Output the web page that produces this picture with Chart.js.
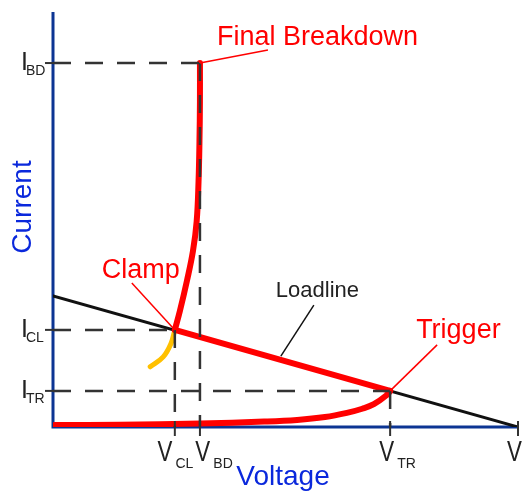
<!DOCTYPE html>
<html>
<head>
<meta charset="utf-8">
<script src="https://cdn.jsdelivr.net/npm/chart.js@4/dist/chart.umd.min.js"></script>
<style>
  html, body { margin: 0; padding: 0; background: #fff; }
  #wrap { width: 528px; height: 491px; }
</style>
</head>
<body>
<div id="wrap"><canvas id="chart" width="528" height="491"></canvas></div>
<script>
// operating points: breakdown, clamp, trigger
const pointNames = ['BD', 'CL', 'TR'];
const pointV     = [31.6, 26.2, 72.5];
const pointI     = [87.7, 23.4, 8.7];

// voltage axis ticks (last one is the supply V)
const vTickNames  = ['CL', 'BD', 'TR', ''];
const vTickValues = [26.2, 31.6, 72.5, 100];

// off-state branch, up to the trigger point
const offV = [0.4, 14.4, 31.6, 45.4, 52.5, 58.5, 63.2, 66.5, 69.0, 71.8, 72.5];
const offI = [0.5, 0.55, 0.85, 1.3, 1.7, 2.4, 3.4, 4.4, 5.5, 7.7, 8.7];

// snapback along the loadline
const snapV = [72.5, 26.2];
const snapI = [8.7, 23.4];

// clamp branch up to final breakdown
const clampV = [26.2, 27.3, 28.8, 30.1, 30.9, 31.3, 31.5, 31.6, 31.6];
const clampI = [23.4, 28.0, 35.2, 42.4, 49.6, 59.2, 68.9, 78.5, 87.7];

// holding branch below the clamp point
const holdV = [26.2, 25.4, 23.7, 20.9];
const holdI = [23.4, 20.2, 16.9, 14.5];

// loadline
const loadV = [0, 100];
const loadI = [31.6, 0];

const FONT  = '"Liberation Sans", Arial, sans-serif';
const RED   = '#ff0000';
const NAVY  = '#0c3593';
const BLUE  = '#0a28dc';
const DASH  = '#333333';
const INK   = '#222222';

const pts = (xs, ys) => xs.map((v, i) => ({ x: v, y: ys[i] }));

function label(ctx, str, x, y, size, color, align = 'left', sx = 1) {
  ctx.save();
  ctx.font = `${size}px ${FONT}`;
  ctx.fillStyle = color;
  ctx.textAlign = align;
  ctx.textBaseline = 'alphabetic';
  ctx.translate(x, y);
  ctx.scale(sx, 1);
  ctx.fillText(str, 0, 0);
  ctx.restore();
}

function textWidth(ctx, str, size) {
  ctx.save();
  ctx.font = `${size}px ${FONT}`;
  const w = ctx.measureText(str).width;
  ctx.restore();
  return w;
}

function seg(ctx, x1, y1, x2, y2) {
  ctx.beginPath();
  ctx.moveTo(x1, y1);
  ctx.lineTo(x2, y2);
  ctx.stroke();
}

const sketch = {
  id: 'sketch',
  beforeDatasetsDraw(chart) {
    const { ctx, scales: { x, y } } = chart;
    ctx.save();
    ctx.strokeStyle = NAVY;
    ctx.lineWidth = 3;
    ctx.beginPath();
    ctx.moveTo(x.getPixelForValue(0), y.getPixelForValue(100));
    ctx.lineTo(x.getPixelForValue(0), y.getPixelForValue(0));
    ctx.lineTo(x.getPixelForValue(100), y.getPixelForValue(0));
    ctx.stroke();
    ctx.restore();
  },
  afterDatasetsDraw(chart) {
    const { ctx, scales: { x, y } } = chart;
    const x0 = x.getPixelForValue(0);
    const y0 = y.getPixelForValue(0);

    // dashed guides to each operating point
    ctx.save();
    ctx.strokeStyle = DASH;
    ctx.lineWidth = 2.5;
    ctx.setLineDash([18, 14]);
    pointV.forEach((v, i) => {
      const px = x.getPixelForValue(v);
      const py = y.getPixelForValue(pointI[i]);
      seg(ctx, x0, py, px, py);
      seg(ctx, px, py, px, y0);
    });
    ctx.setLineDash([]);

    // ticks
    ctx.lineWidth = 2;
    pointI.forEach(v => {
      const py = y.getPixelForValue(v);
      seg(ctx, x0 - 8, py, x0, py);
    });
    vTickValues.forEach(v => {
      const px = x.getPixelForValue(v);
      seg(ctx, px, y0 - 6, px, y0 + 9);
    });
    ctx.restore();

    // current tick labels
    pointI.forEach((v, i) => {
      const py = y.getPixelForValue(v);
      label(ctx, 'I', x0 - 32, py + 7, 25, INK);
      label(ctx, pointNames[i], x0 - 27, py + 12, 14, INK);
    });

    // voltage tick labels, nudged apart where they would collide
    const vW = 15, gap = 3;
    const groups = vTickValues.map((v, i) => {
      const left = x.getPixelForValue(v) - 11;
      const w = vW + (vTickNames[i] ? gap + textWidth(ctx, vTickNames[i], 14) : 0);
      return { left, w };
    });
    for (let i = 1; i < groups.length; i++) {
      const prev = groups[i - 1], cur = groups[i];
      const over = prev.left + prev.w + 2 - cur.left;
      if (over > 0) { prev.left -= over / 2; cur.left += over / 2; }
    }
    groups.forEach((g, i) => {
      label(ctx, 'V', g.left, y0 + 34, 29, INK, 'left', 0.77);
      if (vTickNames[i]) label(ctx, vTickNames[i], g.left + vW + gap, y0 + 41, 14, INK);
    });

    // axis titles
    label(ctx, 'Voltage', 283, y0 + 58, 28, BLUE, 'center');
    ctx.save();
    ctx.translate(31, 207);
    ctx.rotate(-Math.PI / 2);
    label(ctx, 'Current', 0, 0, 28, BLUE, 'center');
    ctx.restore();

    // callouts
    ctx.save();
    ctx.lineWidth = 1.5;
    const call = (ax, ay, ex, ey, tx, ty, str, size, color, lineColor) => {
      ctx.strokeStyle = lineColor;
      seg(ctx, ax, ay, ax + ex, ay + ey);
      label(ctx, str, ax + tx, ay + ty, size, color);
    };
    const bx = x.getPixelForValue(pointV[0]), by = y.getPixelForValue(pointI[0]);
    call(bx, by, 68, -13, 17, -18, 'Final Breakdown', 27, RED, RED);
    const cx = x.getPixelForValue(pointV[1]), cy = y.getPixelForValue(pointI[1]);
    call(cx, cy, -43, -47, -73, -52, 'Clamp', 27, RED, RED);
    const tx = x.getPixelForValue(pointV[2]), ty = y.getPixelForValue(pointI[2]);
    call(tx, ty, 47, -46, 26, -53, 'Trigger', 27, RED, RED);
    const lv = 49;
    const lx = x.getPixelForValue(lv);
    const ly = y.getPixelForValue(loadI[0] + (loadI[1] - loadI[0]) * (lv - loadV[0]) / (loadV[1] - loadV[0]));
    call(lx, ly - 4, 33, -51, -5, -59, 'Loadline', 22, INK, '#111');
    ctx.restore();
  }
};

// higher "order" is drawn first, so the loadline sits under the red curve
const line = (data, color, width, tension, order) => ({
  data, showLine: true, borderColor: color, borderWidth: width, order,
  pointRadius: 0, tension, borderCapStyle: 'round', borderJoinStyle: 'round', fill: false
});

new Chart(document.getElementById('chart'), {
  type: 'scatter',
  data: {
    datasets: [
      line(pts(loadV, loadI), '#111', 3, 0, 5),
      line(pts(holdV, holdI), '#ffc000', 5, 0.4, 4),
      line(pts(offV, offI), RED, 6, 0.4, 3),
      line(pts(snapV, snapI), RED, 6, 0, 2),
      line(pts(clampV, clampI), RED, 6, 0.4, 1)
    ]
  },
  options: {
    responsive: false,
    animation: false,
    devicePixelRatio: 1,
    layout: { padding: { left: 53, right: 10, top: 12, bottom: 64 } },
    plugins: { legend: { display: false }, tooltip: { enabled: false } },
    scales: {
      x: { type: 'linear', min: 0, max: 100, display: false },
      y: { type: 'linear', min: 0, max: 100, display: false }
    }
  },
  plugins: [sketch]
});
</script>
</body>
</html>
